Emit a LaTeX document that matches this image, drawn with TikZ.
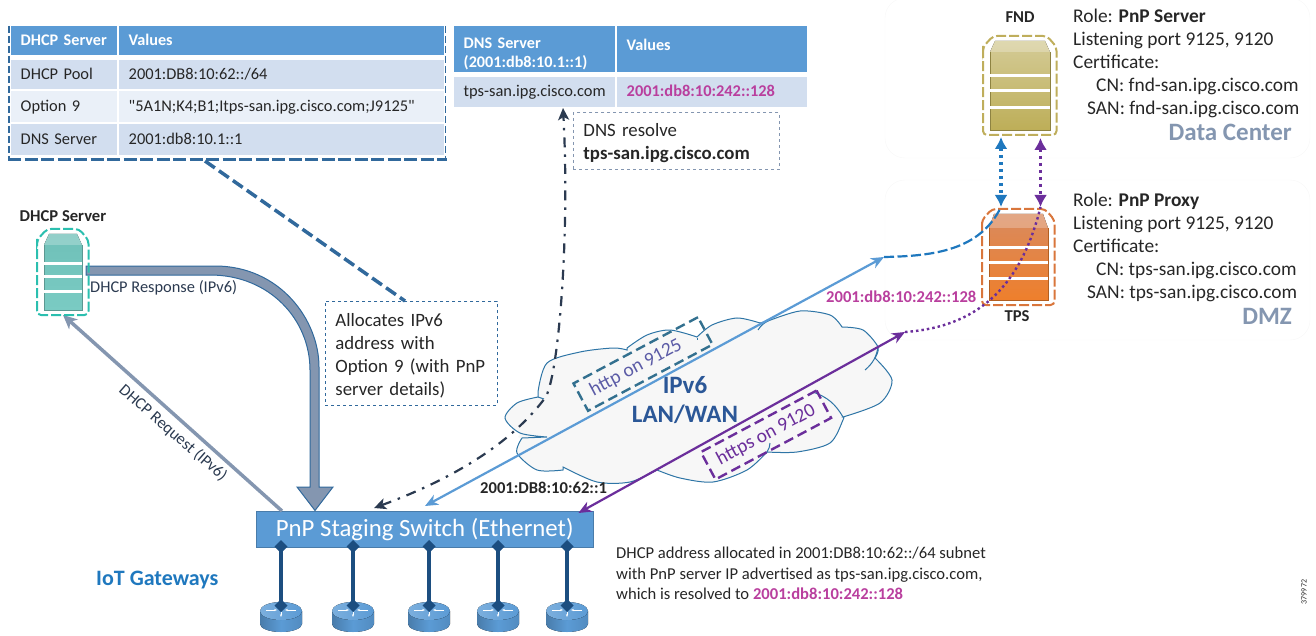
\documentclass[tikz,border=0pt]{standalone}
\usepackage{fontspec}
\setmainfont{Carlito}
\newfontfamily\plainquote{Carlito}
\usetikzlibrary{arrows.meta}
\definecolor{headblue}{HTML}{5B9BD5}
\definecolor{rowdark}{HTML}{D2DEEF}
\definecolor{rowlight}{HTML}{EAF0F8}
\definecolor{tabledash}{HTML}{31699C}
\definecolor{slateblue}{HTML}{8496B0}
\definecolor{inkdark}{HTML}{262626}
\definecolor{inkslate}{HTML}{2B3A50}
\definecolor{addrpink}{HTML}{B93F9E}
\definecolor{linkblue}{HTML}{1F78BE}
\definecolor{linkpurple}{HTML}{6B2E9B}
\definecolor{cloudline}{HTML}{2E75A6}
\definecolor{stemblue}{HTML}{1C4E80}
\definecolor{lanblue}{HTML}{2B5797}
\definecolor{porttext}{HTML}{5B5BA6}
\definecolor{portdash}{HTML}{33708F}
\definecolor{tealframe}{HTML}{2BBFAF}
\definecolor{tealtop}{HTML}{6FC0B8}
\definecolor{tealend}{HTML}{7ACBC3}
\definecolor{khakiframe}{HTML}{BFAE5C}
\definecolor{khakitop}{HTML}{D4CB96}
\definecolor{khakiend}{HTML}{BDAE58}
\definecolor{rustframe}{HTML}{D9763C}
\definecolor{rusttop}{HTML}{D98A5E}
\definecolor{rustend}{HTML}{EE7F2C}
\newcommand{\cellstrut}{\rule[-4pt]{0pt}{17pt}\hspace*{9.5pt}}
\newcommand{\srvicon}[7]{
\begin{scope}[shift={#1}]
\draw[#4,line width=2pt,dash pattern=on 10pt off 3pt,rounded corners=4pt] (-7,{#7-2})--(-7,6)--(3,-5)--({#2-3},-5)--({#2+6.5},6)--({#2+6.5},{#3+5})--(-7,{#3+5})--cycle;
\fill[top color=#5,bottom color=#6] (0,#7)--(5,0)--({#2-5},0)--(#2,#7)--(#2,#3)--(0,#3)--cycle;
\draw[#6!75!black,line width=.8pt] (0,#7)--(0,#3)--(#2,#3)--(#2,#7);
\fill[white,opacity=.25] (0,#7)--(5,0)--({#2-5},0)--(#2,#7)--cycle;
\foreach \b in {.39,.56,.75} \fill[white] (0,{\b*#3-1.5}) rectangle (#2,{\b*#3+1.5});
\end{scope}
}
\tikzset{routericon/.pic={
\fill[left color=headblue!80!black,right color=headblue!90!black,middle color=headblue] (-21,0)--(-21,13) arc[start angle=180,end angle=0,x radius=21,y radius=8]--(21,0)--cycle;
\fill[left color=headblue!80!white,right color=headblue] (0,0) ellipse[x radius=21,y radius=9];
\draw[white,line width=.8pt,-{Stealth[length=3pt]}] (-15,-1)--(-4,-1);
\draw[white,line width=.8pt,-{Stealth[length=3pt]}] (15,-1)--(4,-1);
\draw[white,line width=.8pt,-{Stealth[length=3pt]}] (0,1)--(0,6);
}}
\begin{document}
\begin{tikzpicture}[x=1pt,y=-1pt,font=\fontsize{16.4}{19}\selectfont,text=inkdark]
\tikzstyle{cell}=[anchor=north west,inner sep=0pt,align=left,execute at begin node=\cellstrut]
\tikzstyle{headcell}=[cell,fill=headblue,text=white,font=\fontsize{16.2}{19}\selectfont\bfseries]
\tikzstyle{darkcell}=[cell,fill=rowdark]
\tikzstyle{lightcell}=[cell,fill=rowlight]
\tikzstyle{notebox}=[draw=tabledash,dashed,line width=.9pt,anchor=north west,align=left,inner sep=0pt,font=\fontsize{18.8}{23}\selectfont,execute at begin node=\rule{0pt}{17pt}]
\tikzstyle{rolenote}=[anchor=north west,inner sep=0pt,align=left,font=\fontsize{19.4}{23.2}\selectfont]
\tikzstyle{zonelabel}=[anchor=east,inner sep=0pt,text=slateblue,font=\fontsize{25}{27}\selectfont\bfseries]
\tikzstyle{boldlabel}=[inner sep=0pt,font=\fontsize{16.6}{18}\selectfont\bfseries]
\tikzstyle{pinklabel}=[boldlabel,text=addrpink]
\tikzstyle{thinlink}=[line width=2.2pt,{Stealth[length=13pt,width=11pt,inset=4pt]}-{Stealth[length=13pt,width=11pt,inset=4pt]}]
\tikzstyle{dotlink}=[line width=3.2pt,dash pattern=on 3.5pt off 3.5pt,{Latex[length=12pt,width=13pt]}-{Latex[length=12pt,width=13pt]}]
\tikzstyle{stem}=[stemblue,line width=4pt,{Diamond[length=13pt,width=13pt]}-{Diamond[length=13pt,width=13pt]}]
\tikzstyle{portbox}=[draw,line width=2.4pt,dash pattern=on 10pt off 5pt,rotate=28,minimum height=31pt,inner sep=0pt,font=\fontsize{19.5}{21}\selectfont]
\useasboundingbox (0,0) rectangle (1316,636);
\draw[black!3,rounded corners=20pt] (885,-2) rectangle (1310,158);
\draw[black!3,rounded corners=20pt] (885,180) rectangle (1310,340);
\node[headcell,text width=106pt,minimum height=29pt] (hdhcpa) at (11,26) {DHCP Server};
\node[headcell,text width=325pt,minimum height=29pt] (hdhcpb) at (119,26) {Values};
\node[darkcell,text width=106pt,minimum height=29pt] (poola) at (11,60) {DHCP Pool};
\node[darkcell,text width=325pt,minimum height=29pt] (poolb) at (119,60) {2001:DB8:10:62::/64};
\node[lightcell,text width=106pt,minimum height=31pt] (opta) at (11,91) {Option 9};
\node[lightcell,text width=325pt,minimum height=31pt] (optb) at (119,91) {{\plainquote"}5A1N;K4;B1;Itps-san.ipg.cisco.com;J9125{\plainquote"}};
\node[darkcell,text width=106pt,minimum height=31pt] (dnsa) at (11,124) {DNS Server};
\node[darkcell,text width=325pt,minimum height=31pt] (dnsb) at (119,124) {2001:db8:10.1::1};
\draw[tabledash,line width=1.3pt,dash pattern=on 7pt off 3pt] (9,26)--(9,158);
\draw[tabledash,line width=1.3pt,dash pattern=on 7pt off 3pt] (445.5,26)--(445.5,158);
\draw[tabledash,line width=3.5pt,dash pattern=on 13pt off 3.5pt] (8,159.5)--(447,159.5);
\node[headcell,text width=161pt,minimum height=46pt] (hdnsa) at (454,26) {\rule{0pt}{21pt}DNS Server\\\hspace*{9.5pt}(2001:db8:10.1::1)};
\node[headcell,text width=190pt,minimum height=46pt] (hdnsb) at (617,26) {\rule{0pt}{21pt}Values\\\phantom{V}};
\node[darkcell,text width=161pt,minimum height=30pt] (tpsa) at (454,77) {tps-san.ipg.cisco.com};
\node[darkcell,text width=190pt,minimum height=30pt,text=addrpink,font=\fontsize{16.4}{19}\selectfont\bfseries] (tpsb) at (617,77) {2001:db8:10:242::128};
\node[notebox,draw=slateblue,text width=186pt,inner xsep=10pt,minimum height=57pt] (resolve) at (573,112.5) {DNS resolve\\\textbf{tps-san.ipg.cisco.com}};
\node[notebox,text width=152pt,inner xsep=10pt,minimum height=104pt] (alloc) at (325,301) {Allocates IPv6\\address with\\Option 9 (with PnP\\server details)};
\coordinate (dhcpout) at (205,161);
\coordinate (allocin) at (405,301);
\draw[tabledash,line width=3.5pt,dash pattern=on 12pt off 5pt] (dhcpout)--(allocin);
\fill[black!3] (543,397)--(627,350)--(762,323)--(842,328)--(878,358)--(843,417)--(767,452)--(657,470)--(563,467)--(518,437)--cycle;
\draw[cloudline,line width=1pt,fill=black!3] plot[smooth] coordinates {(547,437) (520,433) (505,418) (517,403) (538,397)}
--plot[smooth] coordinates {(538,392) (547,363) (580,352) (613,348) (627,350)}
--plot[smooth] coordinates {(627,348) (647,335) (670,330) (697,337)}
--plot[smooth] coordinates {(697,337) (712,325) (737,318) (760,323)}
--plot[smooth] coordinates {(768,321) (800,311) (830,315) (842,327)}
--plot[smooth] coordinates {(842,327) (863,330) (878,347) (875,358)}
--plot[smooth] coordinates {(875,358) (892,380) (880,403) (843,417)}
--plot[smooth] coordinates {(843,417) (843,420) (830,443) (797,452) (767,452)}
--plot[smooth] coordinates {(767,452) (747,470) (713,482) (680,478) (657,470)}
--plot[smooth] coordinates {(657,470) (630,482) (597,482) (563,467)}
--plot[smooth] coordinates {(563,470) (537,470) (517,453) (522,438)}--cycle;
\draw[cloudline,line width=1pt] (538,397) to[bend left=10] (544,399);
\draw[cloudline,line width=1pt] (697,338) to[bend right=10] (697,340);
\draw[cloudline,line width=1pt] (768,321) to[bend right=15] (758,330);
\draw[cloudline,line width=1pt] (878,347) to[bend left=20] (865,370);
\draw[cloudline,line width=1pt] (813,392) to[bend left=20] (843,417);
\draw[cloudline,line width=1pt] (767,452) to[bend right=15] (770,443);
\node[inner sep=0pt,text=lanblue,align=center,font=\fontsize{25}{29}\selectfont\bfseries] (lan) at (685,400) {IPv6\\LAN/WAN};
\node[portbox,draw=portdash,text=porttext,minimum width=141pt] (httpbox) at (643,364) {http on 9125\hspace*{16pt}};
\node[portbox,draw=linkpurple,text=linkpurple,minimum width=131pt] (httpsbox) at (766,435) {https on 9120};
\node[draw=headblue!80!black,fill=headblue,text=white,minimum width=337pt,minimum height=36pt,anchor=north west,inner sep=0pt,font=\fontsize{24.8}{27}\selectfont] (switch) at (256,511) {\raisebox{-2pt}{PnP Staging Switch (Ethernet)}};
\coordinate (dhcpnode) at (63,315);
\coordinate (reqout) at (282,511);
\draw[slateblue,line width=3.5pt,-{Stealth[length=14pt,width=13pt,inset=4pt]}] (reqout)--(dhcpnode);
\node[rotate=-41,inner sep=0pt,text=inkslate] (reqlabel) at (173,433) {DHCP Request (IPv6)};
\draw[fill=slateblue,draw=tabledash,line width=1pt] (86,266)--(215,266) .. controls (280,266) and (319,320) .. (319,367)--(319,487)--(333,487)--(315,510.5)--(297,487)--(310,487)--(310,370) .. controls (310,320) and (270,275) .. (210,275)--(86,275)--cycle;
\node[anchor=west,inner sep=0pt,text=inkslate] (resplabel) at (90,288) {DHCP Response (IPv6)};
\srvicon{(44,234)}{38}{76}{tealframe}{tealtop}{tealend}{11}
\srvicon{(990,41)}{60}{89}{khakiframe}{khakitop}{khakiend}{11}
\srvicon{(989,214)}{59}{86}{rustframe}{rusttop}{rustend}{14}
\node[boldlabel] (dhcplabel) at (63,216) {DHCP Server};
\node[boldlabel] (fndlabel) at (1020,17) {FND};
\node[boldlabel] (tpslabel) at (1017,316) {TPS};
\coordinate (dnsin) at (563,108);
\coordinate (dnsout) at (374,508);
\draw[inkslate,line width=2.2pt,dash pattern=on 10pt off 7pt on 2.5pt off 7pt,{Stealth[length=12pt,width=11pt,inset=3pt]}-{Stealth[length=12pt,width=11pt,inset=3pt]}] (dnsout) .. controls (450,480) and (510,445) .. (545,398) .. controls (558,380) and (570,240) .. (dnsin);
\coordinate (httpsw) at (425,506);
\coordinate (httpend) at (884,257);
\coordinate (httpsend) at (905,332);
\coordinate (fndblue) at (1001,137);
\coordinate (tpsblue) at (1001,207);
\coordinate (fndpurple) at (1040.5,138);
\coordinate (tpspurple) at (1040.5,207);
\draw[headblue,thinlink] (httpsw)--(httpend);
\draw[linkpurple,thinlink] (switch.north east)+(-15,2)--(httpsend);
\draw[linkblue,line width=2.2pt,dash pattern=on 10pt off 3.5pt] (httpend) .. controls (935,256) and (980,250) .. (tpsblue);
\draw[linkpurple,line width=2.4pt,dash pattern=on 2.5pt off 3pt] (httpsend) .. controls (975,327) and (1020,290) .. (tpspurple);
\draw[linkblue,dotlink] (fndblue)--(tpsblue);
\draw[linkpurple,dotlink] (fndpurple)--(tpspurple);
\node[pinklabel,anchor=west] (tpsaddr) at (826,297) {2001:db8:10:242::128};
\node[boldlabel,anchor=west] (swaddr) at (480,488) {2001:DB8:10:62::1};
\node[rolenote] (fndnote) at (1073,8.5) {Role: \textbf{PnP Server}\\Listening port 9125, 9120\\Certificate:\\\hspace*{23pt}CN: fnd-san.ipg.cisco.com\\\hspace*{14pt}SAN: fnd-san.ipg.cisco.com};
\node[zonelabel] (dclabel) at (1292,132) {Data Center};
\node[rolenote] (tpsnote) at (1073,192.5) {Role: \textbf{PnP Proxy}\\Listening port 9125, 9120\\Certificate:\\\hspace*{23pt}CN: tps-san.ipg.cisco.com\\\hspace*{14pt}SAN: tps-san.ipg.cisco.com};
\node[zonelabel] (dmzlabel) at (1292,316) {DMZ};
\node[anchor=west,inner sep=0pt,text=linkblue,font=\fontsize{22}{24}\selectfont\bfseries] (iotlabel) at (96,580) {IoT Gateways};
\node[anchor=north west,inner sep=0pt,align=left,font=\fontsize{16.6}{20.5}\selectfont] (subnet) at (616,547) {DHCP address allocated in 2001:DB8:10:62::/64 subnet\\with PnP server IP advertised as tps-san.ipg.cisco.com,\\which is resolved to \textcolor{addrpink}{\textbf{2001:db8:10:242::128}}};
\node[rotate=90,inner sep=0pt,font=\fontsize{8}{10}\selectfont] (figno) at (1304,592) {379972};
\foreach \i/\x in {1/281,2/353,3/429,4/498,5/567}{
\pic at (\x,611) {routericon};
\coordinate (top\i) at (\x,540);
\coordinate (rt\i) at (\x,612);
\draw[stem] (top\i)--(rt\i);
}
\end{tikzpicture}
\end{document}
